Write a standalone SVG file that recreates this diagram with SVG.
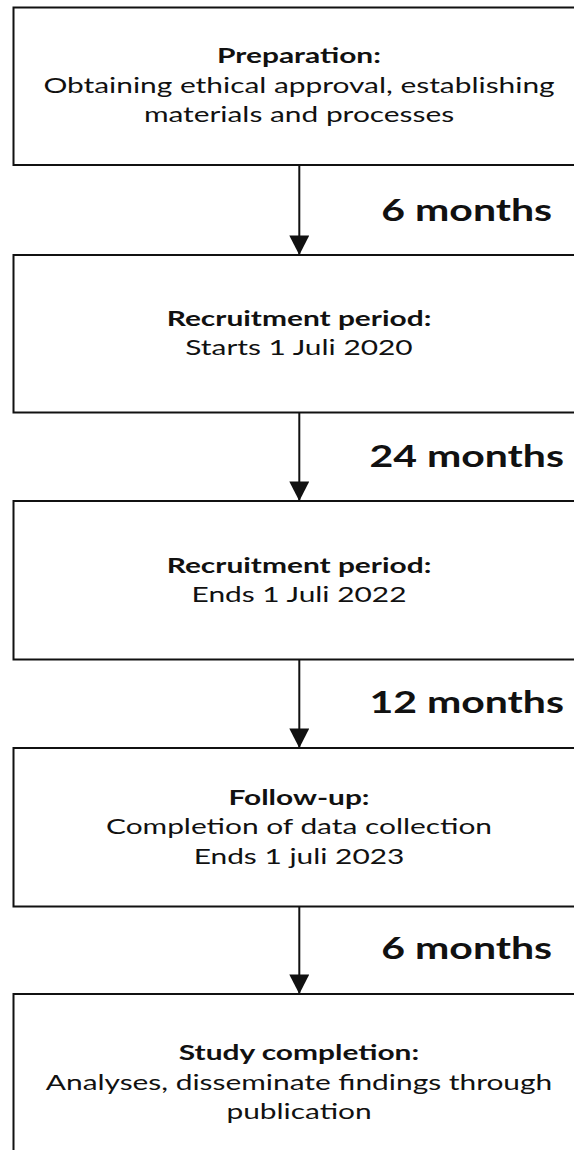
<svg xmlns="http://www.w3.org/2000/svg" width="574" height="1150" viewBox="0 0 574 1150">
<style>
  .box { fill: #ffffff; stroke: #111111; stroke-width: 2; }
  .t { font-family: Lato, "Open Sans", sans-serif; font-size: 21.5px; fill: #111111; text-anchor: middle; }
  .h { font-weight: bold; }
  .lbl { font-family: Lato, "Open Sans", sans-serif; font-size: 29.5px; font-weight: bold; fill: #111111; text-anchor: middle; }
  .conn { stroke: #111111; stroke-width: 2; fill: none; marker-end: url(#arrow); }
</style>
<defs>
  <marker id="arrow" markerUnits="userSpaceOnUse" markerWidth="21" markerHeight="20" refX="20" refY="10.25" orient="auto" viewBox="0 0 21 20.5">
    <path d="M0,0 L20,10.25 L0,20.5 Z" fill="#111111"/>
  </marker>
</defs>
<rect width="574" height="1150" fill="#ffffff"/>

<g id="connectors">
  <line class="conn" x1="299.3" y1="165" x2="299.3" y2="255"/>
  <line class="conn" x1="299.3" y1="412.5" x2="299.3" y2="501"/>
  <line class="conn" x1="299.3" y1="659.5" x2="299.3" y2="748"/>
  <line class="conn" x1="299.3" y1="906.5" x2="299.3" y2="994"/>
  <g transform="translate(466.7 0) scale(1.39 1)"><text class="lbl" x="0" y="221">6 months</text></g>
  <g transform="translate(466.7 0) scale(1.39 1)"><text class="lbl" x="0" y="467">24 months</text></g>
  <g transform="translate(466.7 0) scale(1.39 1)"><text class="lbl" x="0" y="713">12 months</text></g>
  <g transform="translate(466.7 0) scale(1.39 1)"><text class="lbl" x="0" y="959">6 months</text></g>
</g>

<g id="preparation">
  <rect class="box" x="13.5" y="7.5" width="572" height="157.5"/>
  <g transform="translate(299 0) scale(1.39 1)">
    <text class="t h" x="0" y="63.5">Preparation:</text>
    <text class="t" x="0" y="93">Obtaining ethical approval, establishing</text>
    <text class="t" x="0" y="122.5">materials and processes</text>
  </g>
</g>

<g id="recruitment-start">
  <rect class="box" x="13.5" y="255" width="572" height="157.5"/>
  <g transform="translate(299 0) scale(1.39 1)">
    <text class="t h" x="0" y="326">Recruitment period:</text>
    <text class="t" x="0" y="355.5">Starts 1 Juli 2020</text>
  </g>
</g>

<g id="recruitment-end">
  <rect class="box" x="13.5" y="501" width="572" height="158.5"/>
  <g transform="translate(299 0) scale(1.39 1)">
    <text class="t h" x="0" y="573">Recruitment period:</text>
    <text class="t" x="0" y="602.5">Ends 1 Juli 2022</text>
  </g>
</g>

<g id="follow-up">
  <rect class="box" x="13.5" y="748" width="572" height="158.5"/>
  <g transform="translate(299 0) scale(1.39 1)">
    <text class="t h" x="0" y="805">Follow-up:</text>
    <text class="t" x="0" y="834.5">Completion of data collection</text>
    <text class="t" x="0" y="864">Ends 1 juli 2023</text>
  </g>
</g>

<g id="study-completion">
  <rect class="box" x="13.5" y="994" width="572" height="170"/>
  <g transform="translate(299 0) scale(1.39 1)">
    <text class="t h" x="0" y="1060.5">Study completion:</text>
    <text class="t" x="0" y="1090">Analyses, disseminate findings through</text>
    <text class="t" x="0" y="1119.5">publication</text>
  </g>
</g>
</svg>
